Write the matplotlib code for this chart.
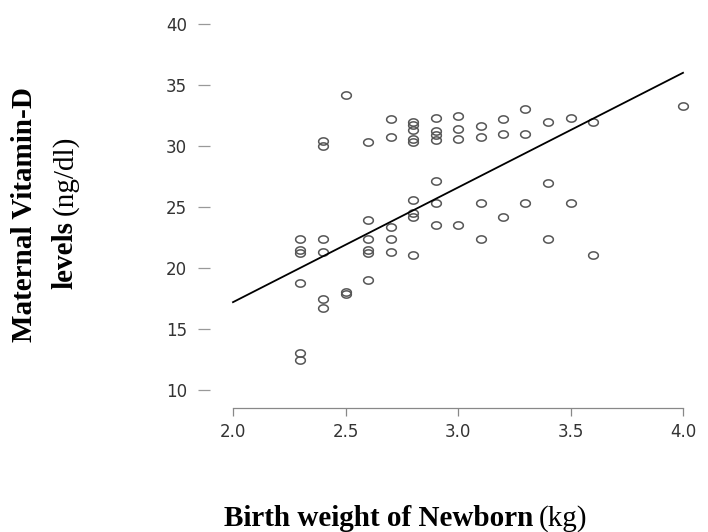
import matplotlib
matplotlib.use('Agg')
import matplotlib.pyplot as plt
import numpy as np

# birth weight (kg) and maternal vitamin D (ng/dl)
birth_weight = [2.3, 2.3, 2.3, 2.3, 2.3, 2.3,
                2.4, 2.4, 2.4, 2.4, 2.4, 2.4,
                2.5, 2.5, 2.5,
                2.6, 2.6, 2.6, 2.6, 2.6, 2.6,
                2.7, 2.7, 2.7, 2.7, 2.7,
                2.8, 2.8, 2.8, 2.8, 2.8, 2.8, 2.8, 2.8, 2.8,
                2.9, 2.9, 2.9, 2.9, 2.9, 2.9, 2.9,
                3.0, 3.0, 3.0, 3.0,
                3.1, 3.1, 3.1, 3.1,
                3.2, 3.2, 3.2,
                3.3, 3.3, 3.3,
                3.4, 3.4, 3.4,
                3.5, 3.5,
                3.6, 3.6,
                4.0]
vitamin_d = [22.35, 21.5, 21.25, 18.8, 13.0, 12.5,
             30.4, 30.0, 22.35, 21.3, 17.5, 16.7,
             34.2, 17.9, 18.0,
             30.35, 23.9, 22.4, 21.5, 21.25, 19.0,
             32.2, 30.7, 23.4, 22.35, 21.3,
             32.0, 31.7, 31.3, 30.6, 30.3, 25.6, 24.5, 24.2, 21.1,
             32.3, 31.2, 30.9, 30.5, 27.1, 25.3, 23.5,
             32.5, 31.4, 30.6, 23.5,
             31.6, 30.7, 25.3, 22.35,
             32.2, 31.0, 24.2,
             33.0, 31.0, 25.3,
             32.0, 27.0, 22.35,
             32.3, 25.3,
             32.0, 21.1,
             33.3]

# fitted line as drawn in the original figure
fit_intercept = -1.6
fit_slope = 9.4
fit_range = [2.0, 4.0]

x_ticks = [2.0, 2.5, 3.0, 3.5, 4.0]
y_ticks = [10, 15, 20, 25, 30, 35, 40]

W, H = 708, 532
fig = plt.figure(figsize=(W / 100, H / 100), dpi=100)
ax = fig.add_axes([221.75 / W, 1 - 396.1 / H, 472.5 / W, 378.2 / H])

# slightly flattened open circles
t = np.linspace(0, 2 * np.pi, 40)
ellipse = list(zip(np.cos(t), 0.75 * np.sin(t)))
ax.plot(birth_weight, vitamin_d, linestyle='none', marker=ellipse,
        markersize=7, markerfacecolor='none', markeredgecolor='#555555',
        markeredgewidth=1.1)

xs = np.array(fit_range)
ax.plot(xs, fit_intercept + fit_slope * xs, color='black', linewidth=1.3)

ax.set_xlim(1.95, 4.05)
ax.set_ylim(9.5, 40.5)

for s in ['top', 'right']:
    ax.spines[s].set_visible(False)
ax.spines['left'].set_visible(False)
ax.spines['left'].set_position(('outward', 8.5))
ax.spines['bottom'].set_position(('outward', 8.6))
ax.spines['bottom'].set_bounds(2.0, 4.0)
ax.spines['bottom'].set_color('#888888')
ax.spines['bottom'].set_linewidth(0.9)

ax.set_xticks(x_ticks)
ax.set_xticklabels([f'{v:.1f}' for v in x_ticks])
ax.set_yticks(y_ticks)
ax.set_yticklabels([str(v) for v in y_ticks])
ax.tick_params(axis='x', length=5.5, width=0.9, color='#888888', pad=5,
               labelsize=12, labelcolor='#333333')
ax.tick_params(axis='y', length=8.5, width=0.9, color='#999999', pad=8,
               labelsize=12, labelcolor='#333333')
for lab in ax.get_xticklabels() + ax.get_yticklabels():
    lab.set_fontfamily('DejaVu Sans')

# axis titles: bold part followed by a regular unit part
serif = 'Liberation Serif'
fsize = 21
fig.canvas.draw()
r = fig.canvas.get_renderer()

# x label
xb = fig.text(0, 0, 'Birth weight of Newborn', fontfamily=serif,
              fontweight='bold', fontsize=fsize, va='baseline', ha='left')
xn = fig.text(0, 0, '(kg)', fontfamily=serif, fontsize=fsize,
              va='baseline', ha='left')
wb = xb.get_window_extent(r).width
wn = xn.get_window_extent(r).width
gap = 6
x0 = 405.5 - (wb + gap + wn) / 2
yb = (H - 525.7) / H
xb.set_position((x0 / W, yb))
xn.set_position(((x0 + wb + gap) / W, yb))

# y label, line 1
fig.text(25 / W, 1 - 214.5 / H, 'Maternal Vitamin-D', fontfamily=serif,
         fontweight='bold', fontsize=fsize, rotation=90,
         ha='center', va='center')

# y label, line 2
yb1 = fig.text(0, 0, 'levels', fontfamily=serif, fontweight='bold',
               fontsize=fsize, rotation=90, ha='center', va='bottom')
yn1 = fig.text(0, 0, '(ng/dl)', fontfamily=serif, fontsize=fsize,
               rotation=90, ha='center', va='bottom')
hb = yb1.get_window_extent(r).height
hn = yn1.get_window_extent(r).height
cy = H - 212.5
y0 = cy - (hb + gap + hn) / 2
yb1.set_position((65 / W, y0 / H))
yn1.set_position((65 / W, (y0 + hb + gap) / H))

fig.savefig('out.png', dpi=100)
